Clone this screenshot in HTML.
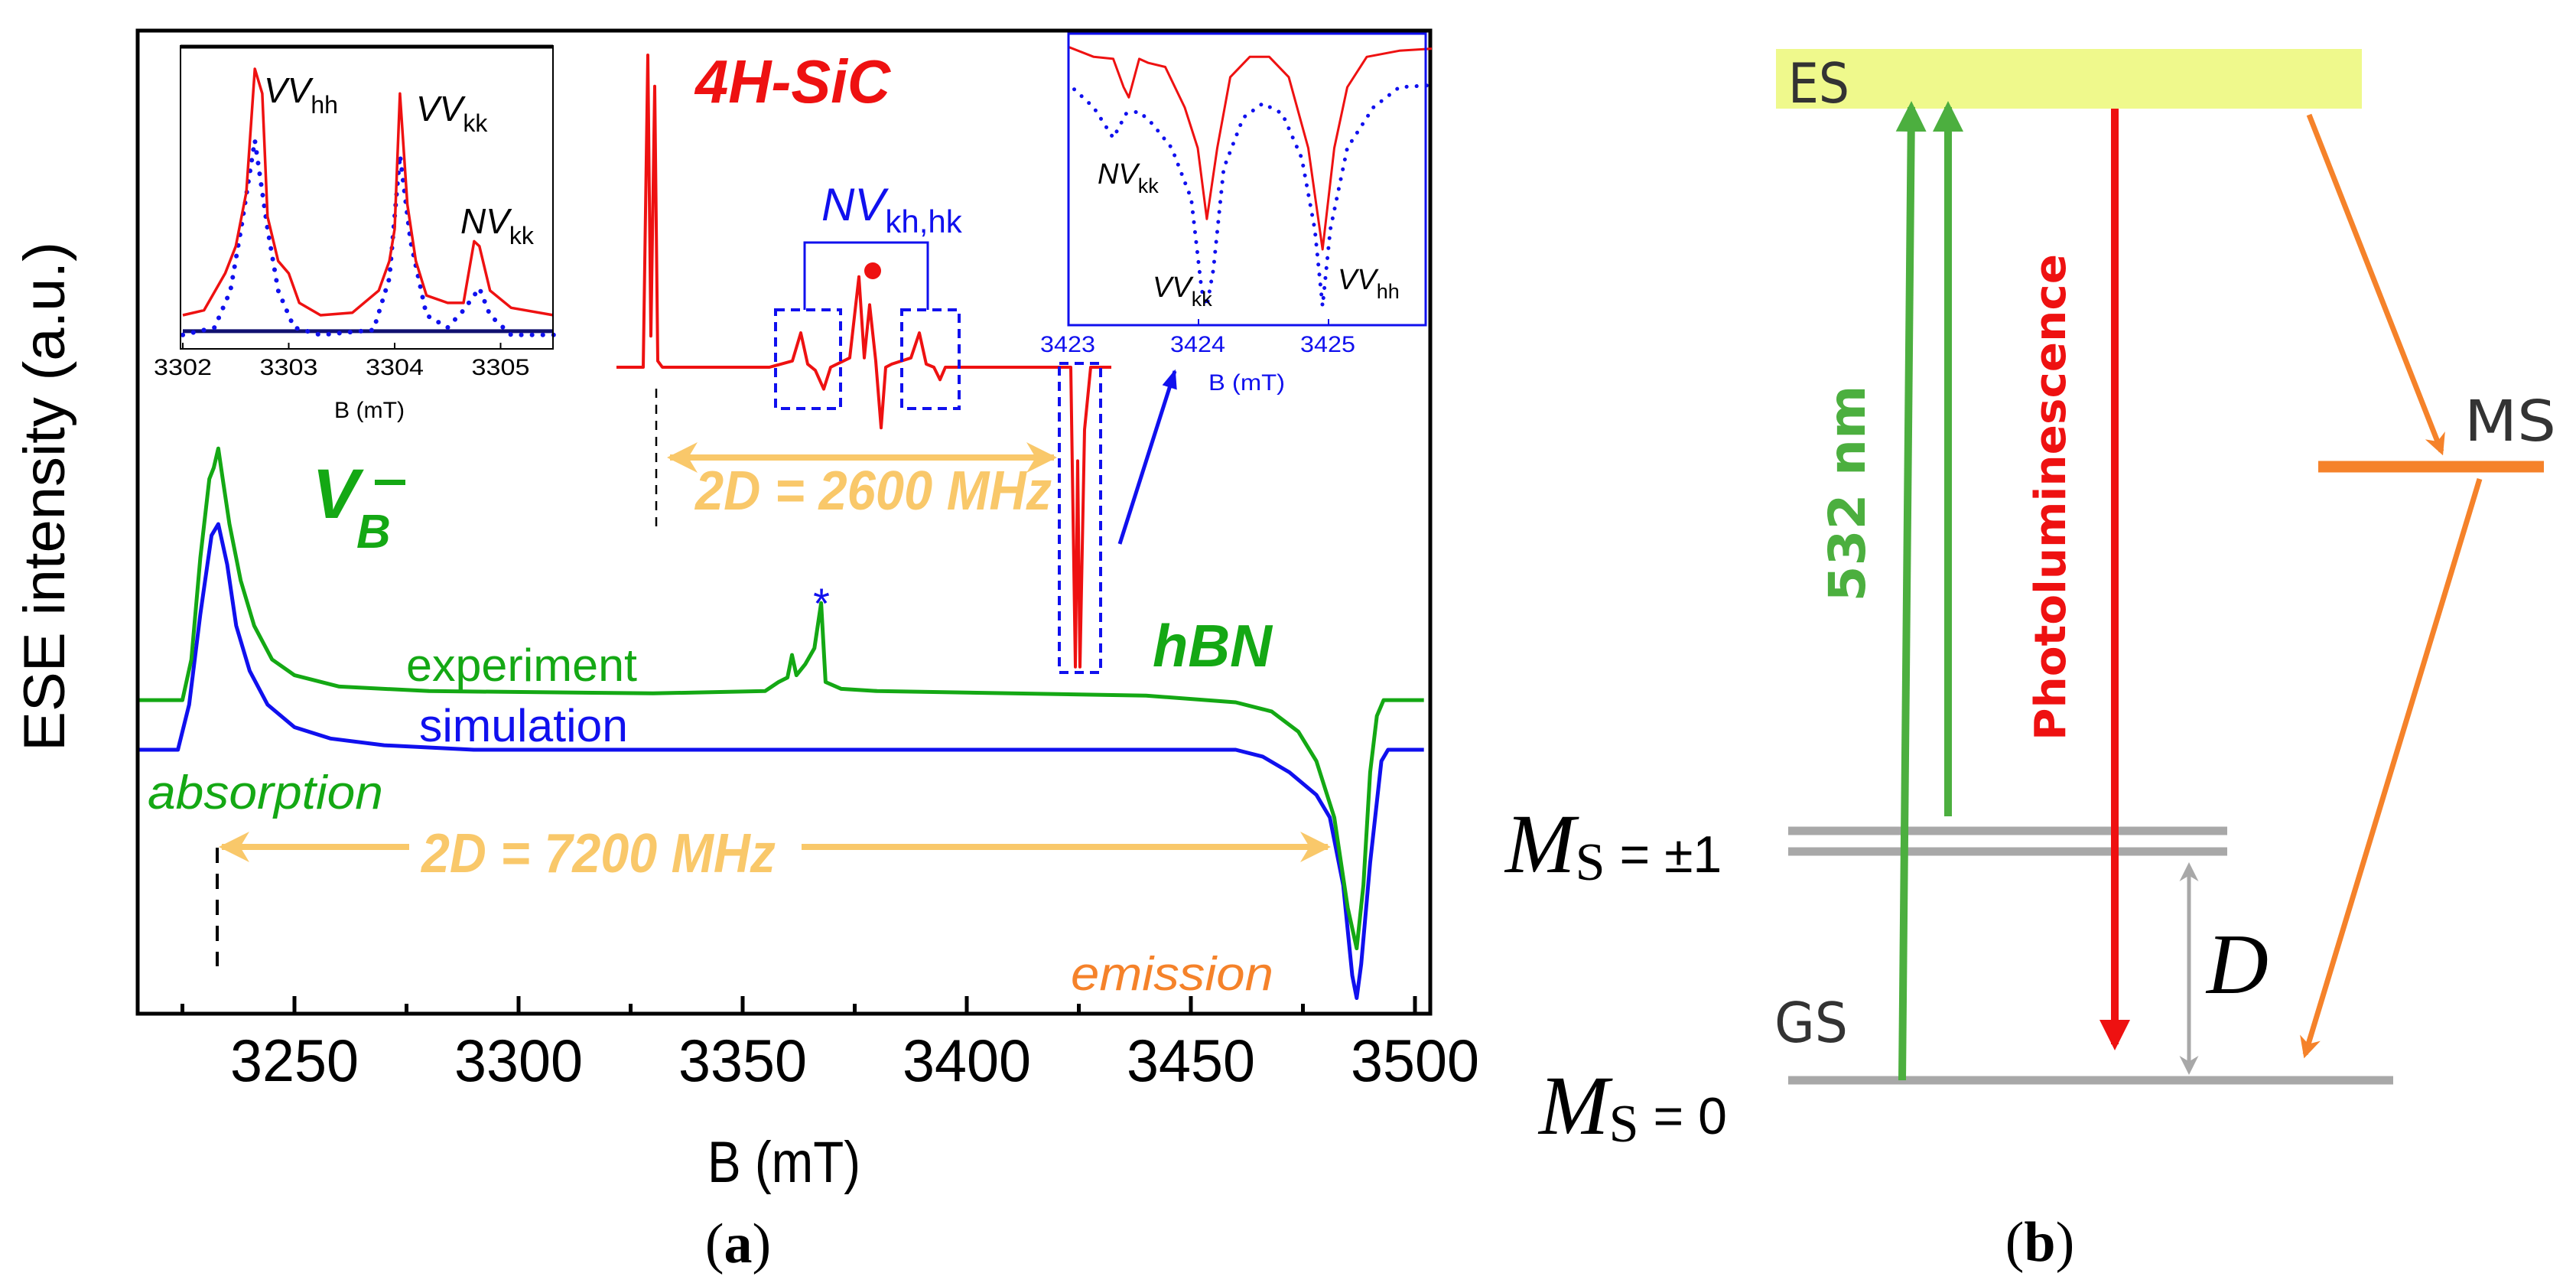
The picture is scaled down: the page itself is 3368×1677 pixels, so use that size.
<!DOCTYPE html>
<html><head><meta charset="utf-8"><style>
html,body{margin:0;padding:0;background:#fff;}
svg{display:block;font-family:"Liberation Sans",sans-serif;}
</style></head><body>
<svg id="fig" width="3368" height="1677" viewBox="0 0 3368 1677" xmlns="http://www.w3.org/2000/svg" font-family="Liberation Sans, sans-serif">
<defs>
<marker id="ahO" viewBox="0 0 10 10" refX="9" refY="5" markerWidth="5" markerHeight="5" orient="auto-start-reverse"><path d="M0,0 L10,5 L0,10 L3,5 Z" fill="#f9c86a"/></marker>
<marker id="ahB" viewBox="0 0 10 10" refX="9" refY="5" markerWidth="5" markerHeight="6" orient="auto"><path d="M0,1 L10,5 L0,9 Z" fill="#1010ee"/></marker>
<marker id="ahG" viewBox="0 0 10 10" refX="8" refY="5" markerWidth="4" markerHeight="4" orient="auto"><path d="M0,0 L10,5 L0,10 Z" fill="#4caf3f"/></marker>
<marker id="ahR" viewBox="0 0 10 10" refX="8" refY="5" markerWidth="4" markerHeight="4" orient="auto"><path d="M0,0 L10,5 L0,10 Z" fill="#ee1111"/></marker>
<marker id="ahOr" viewBox="0 0 10 10" refX="8" refY="5" markerWidth="4" markerHeight="4" orient="auto"><path d="M0,0 L10,5 L0,10 L3,5 Z" fill="#f5822a"/></marker>
<marker id="ahGr" viewBox="0 0 10 10" refX="8" refY="5" markerWidth="5" markerHeight="5" orient="auto-start-reverse"><path d="M0,0 L10,5 L0,10 L3,5 Z" fill="#a8a8a8"/></marker>
</defs>

<g id="panelA">
  <text transform="translate(84,649) rotate(-90)" text-anchor="middle" font-size="76" textLength="666" lengthAdjust="spacingAndGlyphs">ESE intensity (a.u.)</text>
  <text x="1025" y="1545" text-anchor="middle" font-size="76" textLength="200" lengthAdjust="spacingAndGlyphs">B (mT)</text>
  <text x="965" y="1650" text-anchor="middle" font-size="74" font-family="Liberation Serif, serif">(<tspan font-weight="bold">a</tspan>)</text>
  <g id="xticks"></g>
  <g id="mainSeries"></g>
  <rect x="180" y="40" width="1690" height="1285" fill="none" stroke="#000" stroke-width="5"/>

  <line x1="284" y1="1108" x2="284" y2="1263" stroke="#000" stroke-width="4" stroke-dasharray="20,14"/>
  <line x1="535" y1="1107" x2="290" y2="1107" stroke="#f9c86a" stroke-width="8" marker-end="url(#ahO)"/>
  <line x1="1048" y1="1107" x2="1736" y2="1107" stroke="#f9c86a" stroke-width="8" marker-end="url(#ahO)"/>
  <text x="551" y="1140" font-size="72" font-weight="bold" font-style="italic" fill="#f9c86a" textLength="463" lengthAdjust="spacingAndGlyphs">2D = 7200 MHz</text>
  <text x="531" y="890" font-size="60" fill="#14a814" textLength="302" lengthAdjust="spacingAndGlyphs">experiment</text>
  <text x="548" y="969" font-size="60" fill="#1010ee" textLength="273" lengthAdjust="spacingAndGlyphs">simulation</text>
  <text x="193" y="1057" font-size="62" font-style="italic" fill="#14a814" textLength="308" lengthAdjust="spacingAndGlyphs">absorption</text>
  <text x="1400" y="1294" font-size="62" font-style="italic" fill="#f5822a" textLength="265" lengthAdjust="spacingAndGlyphs">emission</text>
  <text x="1507" y="871" font-size="78" font-weight="bold" font-style="italic" fill="#14a814" textLength="156" lengthAdjust="spacingAndGlyphs">hBN</text>
  <text x="408" y="677" font-size="92" font-weight="bold" font-style="italic" fill="#14a814">V</text>
  <text x="466" y="716" font-size="62" font-weight="bold" font-style="italic" fill="#14a814">B</text>
  <rect x="490" y="627" width="40" height="7" fill="#14a814"/>
  <text x="1074" y="808" text-anchor="middle" font-size="56" fill="#1010ee">*</text>

  <text x="909" y="134" font-size="80" font-weight="bold" font-style="italic" fill="#ee1111" textLength="255" lengthAdjust="spacingAndGlyphs">4H-SiC</text>
  <g id="sicSeries"></g>
  <circle cx="1141" cy="354" r="11" fill="#ee1111"/>
  <rect x="1014" y="405" width="85" height="129" fill="none" stroke="#1010ee" stroke-width="4" stroke-dasharray="12,8"/>
  <rect x="1179" y="405" width="75" height="129" fill="none" stroke="#1010ee" stroke-width="4" stroke-dasharray="12,8"/>
  <rect x="1385" y="475" width="54" height="404" fill="none" stroke="#1010ee" stroke-width="4" stroke-dasharray="12,8"/>
  <polyline points="1052,405 1052,317 1213,317 1213,405" fill="none" stroke="#1010ee" stroke-width="3"/>
  <text x="1074" y="288" font-size="60" font-style="italic" fill="#1010ee">NV<tspan font-style="normal" font-size="42" dy="16">kh,hk</tspan></text>
  <line x1="858" y1="508" x2="858" y2="688" stroke="#000" stroke-width="2.5" stroke-dasharray="12,9"/>
  <line x1="876" y1="598" x2="1378" y2="598" stroke="#f9c86a" stroke-width="8" marker-start="url(#ahO)" marker-end="url(#ahO)"/>
  <text x="909" y="666" font-size="72" font-weight="bold" font-style="italic" fill="#f9c86a" textLength="466" lengthAdjust="spacingAndGlyphs">2D = 2600 MHz</text>
  <line x1="1464" y1="711" x2="1536" y2="485" stroke="#1010ee" stroke-width="5" marker-end="url(#ahB)"/>

  <g id="inset1">
    <rect x="236" y="60" width="487" height="396" fill="#fff"/>
    <g id="in1Series"></g>
    <rect x="236" y="60" width="487" height="396" fill="none" stroke="#000" stroke-width="2"/>
    <line x1="236" y1="61" x2="723" y2="61" stroke="#000" stroke-width="5"/>
    <g id="in1Ticks"></g>
    <text x="483" y="546" text-anchor="middle" font-size="30" textLength="92" lengthAdjust="spacingAndGlyphs">B (mT)</text>
    <text x="345" y="134" font-size="46" font-style="italic">VV<tspan font-style="normal" font-size="32" dy="14">hh</tspan></text>
    <text x="544" y="158" font-size="46" font-style="italic">VV<tspan font-style="normal" font-size="32" dy="14">kk</tspan></text>
    <text x="602" y="305" font-size="46" font-style="italic">NV<tspan font-style="normal" font-size="32" dy="14">kk</tspan></text>
  </g>

  <g id="inset2">
    <rect x="1397" y="44" width="467" height="381" fill="#fff"/>
    <g id="in2Series"></g>
    <rect x="1397" y="44" width="467" height="381" fill="none" stroke="#1010ee" stroke-width="3"/>
    <g id="in2Ticks"></g>
    <text x="1630" y="510" text-anchor="middle" font-size="30" fill="#1010ee" textLength="100" lengthAdjust="spacingAndGlyphs">B (mT)</text>
    <text x="1435" y="240" font-size="38" font-style="italic">NV<tspan font-style="normal" font-size="27" dy="12">kk</tspan></text>
    <text x="1507" y="388" font-size="38" font-style="italic">VV<tspan font-style="normal" font-size="27" dy="12">kk</tspan></text>
    <text x="1749" y="378" font-size="38" font-style="italic">VV<tspan font-style="normal" font-size="27" dy="12">hh</tspan></text>
  </g>
</g>

<g id="panelB">
  <rect x="2322" y="64" width="766" height="78" fill="#eff98c"/>
  <text x="2338" y="134" font-size="72" fill="#333" font-family="DejaVu Sans, sans-serif" textLength="80" lengthAdjust="spacingAndGlyphs">ES</text>
  <text x="2320" y="1362" font-size="72" fill="#333" font-family="DejaVu Sans, sans-serif" textLength="96" lengthAdjust="spacingAndGlyphs">GS</text>
  <text x="3222" y="576" font-size="74" fill="#333" font-family="DejaVu Sans, sans-serif" textLength="120" lengthAdjust="spacingAndGlyphs">MS</text>

  <line x1="2338" y1="1086" x2="2912" y2="1086" stroke="#a8a8a8" stroke-width="11"/>
  <line x1="2338" y1="1113" x2="2912" y2="1113" stroke="#a8a8a8" stroke-width="11"/>
  <line x1="2338" y1="1412" x2="3129" y2="1412" stroke="#a8a8a8" stroke-width="11"/>
  <line x1="3031" y1="610" x2="3326" y2="610" stroke="#f5822a" stroke-width="15"/>

  <line x1="2487" y1="1412" x2="2499" y2="140" stroke="#4caf3f" stroke-width="10" marker-end="url(#ahG)"/>
  <line x1="2547" y1="1067" x2="2547" y2="140" stroke="#4caf3f" stroke-width="10" marker-end="url(#ahG)"/>
  <line x1="2765" y1="142" x2="2765" y2="1365" stroke="#ee1111" stroke-width="10" marker-end="url(#ahR)"/>
  <line x1="3019" y1="150" x2="3192" y2="590" stroke="#f5822a" stroke-width="7" marker-end="url(#ahOr)"/>
  <line x1="3242" y1="626" x2="3014" y2="1378" stroke="#f5822a" stroke-width="7" marker-end="url(#ahOr)"/>
  <line x1="2862" y1="1132" x2="2862" y2="1400" stroke="#a8a8a8" stroke-width="5" marker-start="url(#ahGr)" marker-end="url(#ahGr)"/>

  <text transform="translate(2438,645) rotate(-90)" text-anchor="middle" font-size="66" font-weight="bold" fill="#4caf3f" font-family="DejaVu Sans, sans-serif" textLength="283" lengthAdjust="spacingAndGlyphs">532 nm</text>
  <text transform="translate(2700,650) rotate(-90)" text-anchor="middle" font-size="56" font-weight="bold" fill="#ee1111" font-family="DejaVu Sans, sans-serif" textLength="636" lengthAdjust="spacingAndGlyphs">Photoluminescence</text>
  <text x="2885" y="1298" font-size="112" font-style="italic" font-family="Liberation Serif, serif">D</text>
  <text x="1968" y="1140" font-size="110" font-style="italic" font-family="Liberation Serif, serif">M<tspan font-style="normal" font-size="70" dy="10">S</tspan><tspan font-style="normal" font-size="68" dy="-10" font-family="Liberation Sans, sans-serif"> = ±1</tspan></text>
  <text x="2012" y="1482" font-size="110" font-style="italic" font-family="Liberation Serif, serif">M<tspan font-style="normal" font-size="70" dy="10">S</tspan><tspan font-style="normal" font-size="68" dy="-10" font-family="Liberation Sans, sans-serif"> = 0</tspan></text>
  <text x="2667" y="1648" text-anchor="middle" font-size="74" font-family="Liberation Serif, serif">(<tspan font-weight="bold">b</tspan>)</text>
</g>
</svg>
<script>
const simB   = [3215,3224,3226.5,3229,3231.5,3233,3235,3237,3240,3244,3250,3258,3270,3290,3445,3460,3466,3472,3478,3481,3484,3486,3487,3488,3490,3492.5,3494,3495.5,3502];
const simI   = [0,0,0.2,0.6,0.95,1.0,0.82,0.55,0.35,0.2,0.1,0.05,0.02,0,0,0,-0.03,-0.1,-0.2,-0.3,-0.6,-1.0,-1.10,-0.95,-0.5,-0.05,0,0,0];
const expB   = [3215,3225,3227,3229,3231,3232,3233,3234,3235.5,3238,3241,3245,3250,3260,3280,3330,3355,3358,3360,3361,3362,3364,3366,3367.5,3368.5,3372,3380,3440,3460,3468,3474,3478,3482,3485,3487,3488.5,3490,3491.5,3493,3502];
const expI   = [0.22,0.22,0.4,0.85,1.2,1.25,1.335,1.2,1.0,0.75,0.55,0.4,0.33,0.28,0.26,0.25,0.26,0.3,0.32,0.42,0.33,0.38,0.45,0.65,0.3,0.27,0.26,0.24,0.21,0.17,0.08,-0.05,-0.3,-0.7,-0.88,-0.6,-0.1,0.15,0.22,0.22];
const xTicks = [3250,3300,3350,3400,3450,3500];
const xMinor = [3225,3275,3325,3375,3425,3475];
const sicB = [0,3.5,4.1,4.5,5.0,5.4,6,20,23,24.1,25,26,27.1,28,30.5,31.7,32.4,33.1,33.9,34.6,35.2,36,38.5,39.6,40.5,41.5,42.3,43,59.4,60,60.3,60.6,61.2,61.6,62,64.7];
const sicI = [0,0,1.0,0.1,0.9,0.02,0,0,0.02,0.11,0.01,-0.01,-0.07,0,0.03,0.29,0.03,0.2,0.02,-0.194,0,0.01,0.03,0.11,0.01,0,-0.04,0,0,-0.96,-0.3,-0.96,-0.2,-0.1,0,0];
const in1B    = [3302,3302.2,3302.4,3302.5,3302.6,3302.68,3302.75,3302.8,3302.9,3303.0,3303.1,3303.3,3303.6,3303.85,3303.95,3304.0,3304.05,3304.12,3304.2,3304.3,3304.5,3304.65,3304.75,3304.8,3304.9,3305.1,3305.5];
const in1Red  = [0,0.02,0.17,0.28,0.5,1.0,0.9,0.4,0.22,0.17,0.05,0,0.01,0.1,0.22,0.35,0.9,0.45,0.22,0.08,0.05,0.05,0.3,0.28,0.1,0.03,0];
const in1SimB = [3302,3302.3,3302.45,3302.55,3302.68,3302.8,3302.9,3303.05,3303.3,3303.8,3303.95,3304.05,3304.15,3304.3,3304.5,3304.65,3304.8,3304.9,3305.1,3305.5];
const in1Sim  = [-0.08,-0.05,0.1,0.35,0.71,0.35,0.1,-0.05,-0.08,-0.06,0.15,0.65,0.3,0,-0.05,0.02,0.11,0,-0.08,-0.08];
const in1Ticks = [3302,3303,3304,3305];
const in2B    = [3423,3423.2,3423.35,3423.43,3423.47,3423.55,3423.62,3423.75,3423.9,3424.0,3424.07,3424.15,3424.25,3424.4,3424.55,3424.7,3424.85,3424.96,3425.05,3425.15,3425.3,3425.55,3425.8];
const in2Red  = [0,-0.05,-0.06,-0.2,-0.25,-0.06,-0.08,-0.1,-0.3,-0.5,-0.85,-0.5,-0.15,-0.05,-0.05,-0.15,-0.5,-1.0,-0.5,-0.2,-0.05,-0.02,-0.01];
const in2SimB = [3423.05,3423.2,3423.35,3423.45,3423.55,3423.65,3423.8,3423.95,3424.03,3424.07,3424.12,3424.2,3424.35,3424.5,3424.65,3424.8,3424.9,3424.96,3425.02,3425.15,3425.35,3425.55,3425.8];
const in2Sim  = [-0.21,-0.3,-0.45,-0.33,-0.32,-0.38,-0.5,-0.75,-1.2,-1.28,-1.1,-0.6,-0.35,-0.28,-0.33,-0.55,-0.9,-1.28,-0.9,-0.5,-0.3,-0.2,-0.19];
const in2Ticks = [3423,3424,3425];

const NS = 'http://www.w3.org/2000/svg';
const X  = b => 385 + (b - 3250) * 5.86;
const Y  = v => 980 - v * 295;
const SX = b => 806 + b * 10;
const SY = v => 480 - v * 408;
const X1 = b => 239 + (b - 3302) * 138.5;
const Y1 = v => 412 - v * 322;
const X2 = b => 1396 + (b - 3423) * 170;
const Y2 = v => 61 - v * 265;

function poly(parent, xs, ys, fx, fy, color, w, dash) {
  const p = document.createElementNS(NS, 'polyline');
  p.setAttribute('points', xs.map((b, i) => fx(b).toFixed(1) + ',' + fy(ys[i]).toFixed(1)).join(' '));
  p.setAttribute('fill', 'none');
  p.setAttribute('stroke', color);
  p.setAttribute('stroke-width', w);
  p.setAttribute('stroke-linejoin', 'round');
  if (dash) { p.setAttribute('stroke-dasharray', dash); p.setAttribute('stroke-linecap', 'round'); }
  document.getElementById(parent).appendChild(p);
  return p;
}
let e;
e = poly('mainSeries', simB, simI, X, Y, '#1010ee', 5);


e = poly('mainSeries', expB, expI, X, Y, '#14a814', 5);


e = poly('sicSeries', sicB, sicI, SX, SY, '#ee1111', 4);


e = poly('in1Series', [3302, 3305.5], [-0.065, -0.065], X1, Y1, '#101070', 5);


e = poly('in1Series', in1SimB, in1Sim, X1, Y1, '#1010ee', 6, '0.1,14');


e = poly('in1Series', in1B, in1Red, X1, Y1, '#ee1111', 3.5);


e = poly('in2Series', in2SimB, in2Sim, X2, Y2, '#1010ee', 5, '0.1,13');


e = poly('in2Series', in2B, in2Red, X2, Y2, '#ee1111', 3);



function tick(parent, x, y1, y2, color, w) {
  const l = document.createElementNS(NS, 'line');
  l.setAttribute('x1', x); l.setAttribute('x2', x);
  l.setAttribute('y1', y1); l.setAttribute('y2', y2);
  l.setAttribute('stroke', color); l.setAttribute('stroke-width', w);
  document.getElementById(parent).appendChild(l);
  return l;
}
function label(parent, x, y, txt, size, color, len) {
  const t = document.createElementNS(NS, 'text');
  t.setAttribute('x', x); t.setAttribute('y', y);
  t.setAttribute('text-anchor', 'middle');
  t.setAttribute('font-size', size);
  t.setAttribute('fill', color);
  t.setAttribute('textLength', len);
  t.setAttribute('lengthAdjust', 'spacingAndGlyphs');
  t.textContent = txt;
  document.getElementById(parent).appendChild(t);
  return t;
}
xTicks.forEach(b => {
  e = tick('xticks', X(b), 1325, 1302, '#000', 5);
  
  
  e = label('xticks', X(b), 1413, String(b), 78, '#000', 168);
  
  
});
xMinor.forEach(b => {
  e = tick('xticks', X(b), 1325, 1312, '#000', 5);
  
  
});
in1Ticks.forEach(b => {
  e = tick('in1Ticks', X1(b), 456, 448, '#000', 2);
  
  
  e = label('in1Ticks', X1(b), 490, String(b), 30, '#000', 76);
  
  
});
in2Ticks.forEach(b => {
  e = tick('in2Ticks', X2(b) + 1, 425, 417, '#1010ee', 2);
  
  
  e = label('in2Ticks', X2(b), 460, String(b), 30, '#1010ee', 72);
  
  
});
</script>
</body></html>
